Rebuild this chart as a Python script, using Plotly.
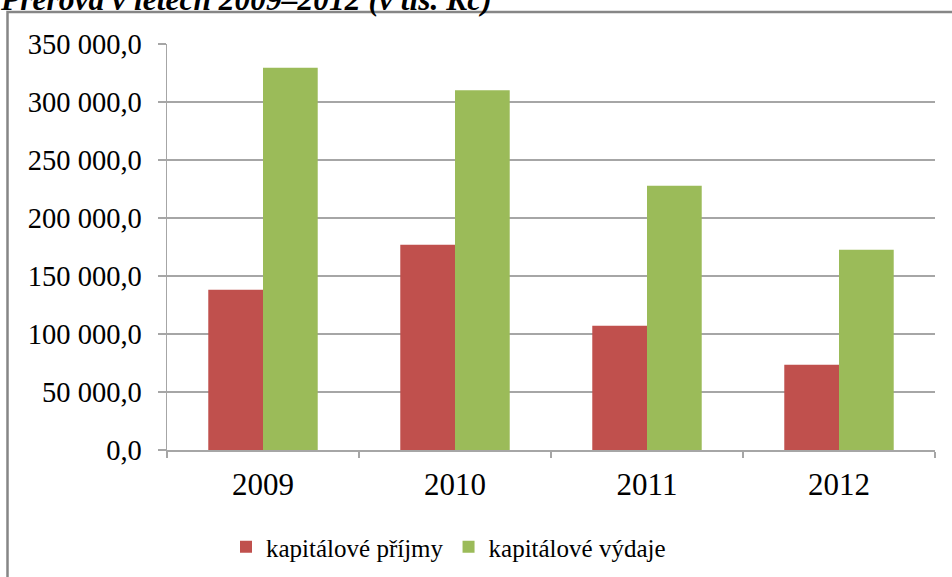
import plotly.graph_objects as go

years = ["2009", "2010", "2011", "2012"]
prijmy = [138200, 177000, 107100, 73500]
vydaje = [329600, 310100, 227900, 172700]
series_names = ["kapitálové příjmy", "kapitálové výdaje"]
y_tickvals = [0, 50000, 100000, 150000, 200000, 250000, 300000, 350000]
y_ticktext = ["0,0", "50 000,0", "100 000,0", "150 000,0", "200 000,0",
              "250 000,0", "300 000,0", "350 000,0"]
title_text = "Přerova v letech 2009–2012 (v tis. Kč)"

FONT = "Liberation Serif"
GRID = "#a6a6a6"

fig = go.Figure()
fig.add_trace(go.Bar(x=years, y=prijmy, name=series_names[0],
                     marker=dict(color="#C0504D", line=dict(width=0))))
fig.add_trace(go.Bar(x=years, y=vydaje, name=series_names[1],
                     marker=dict(color="#9BBB59", line=dict(width=0))))

W, H = 952, 577
L, R, T, B = 167, 17, 44, 127
pw = W - L - R
ph = H - T - B

def px(x):
    return (x - L) / pw

def py(y):
    return (H - B - y) / ph

fig.update_layout(
    width=W, height=H,
    margin=dict(l=L, r=R, t=T, b=B, autoexpand=False),
    paper_bgcolor="white", plot_bgcolor="white",
    barmode="group", bargap=0.43, bargroupgap=0,
    font=dict(family=FONT, color="black", size=28),
    showlegend=True,
    legend=dict(orientation="h", x=px(226), xanchor="left", y=py(547), yanchor="middle",
                font=dict(family=FONT, size=25, color="black"),
                bgcolor="rgba(0,0,0,0)", itemwidth=30, traceorder="normal"),
    xaxis=dict(showgrid=False, showline=True, linecolor=GRID, linewidth=1.5,
               ticks="outside", tickson="boundaries", ticklen=6, tickcolor=GRID,
               tickwidth=1.5, tickfont=dict(family=FONT, size=31, color="black"),
               ticklabelstandoff=6, fixedrange=True),
    yaxis=dict(range=[0, 350000], tickvals=y_tickvals, ticktext=y_ticktext,
               showgrid=True, gridcolor=GRID, gridwidth=1.5,
               showline=True, linecolor=GRID, linewidth=1.5,
               ticks="outside", ticklen=8, tickcolor=GRID, tickwidth=1.5,
               tickfont=dict(family=FONT, size=28.5, color="black"),
               ticklabelstandoff=10, zeroline=False, fixedrange=True),
    shapes=[dict(type="rect", xref="paper", yref="paper",
                 x0=px(7.5), x1=px(970), y0=py(600), y1=py(12),
                 line=dict(color="#868686", width=2.5), fillcolor="rgba(0,0,0,0)",
                 layer="below")],
    annotations=[dict(text="<b><i>" + title_text + "</i></b>", xref="paper", yref="paper",
                      x=px(-2), y=py(8), xanchor="left", yanchor="middle", yshift=9,
                      showarrow=False, font=dict(family=FONT, size=31.5, color="black"))],
)

fig.write_html("out.html",
               config={"displayModeBar": False, "staticPlot": True},
               post_script="document.body.style.margin='0';document.body.style.overflow='hidden';")
